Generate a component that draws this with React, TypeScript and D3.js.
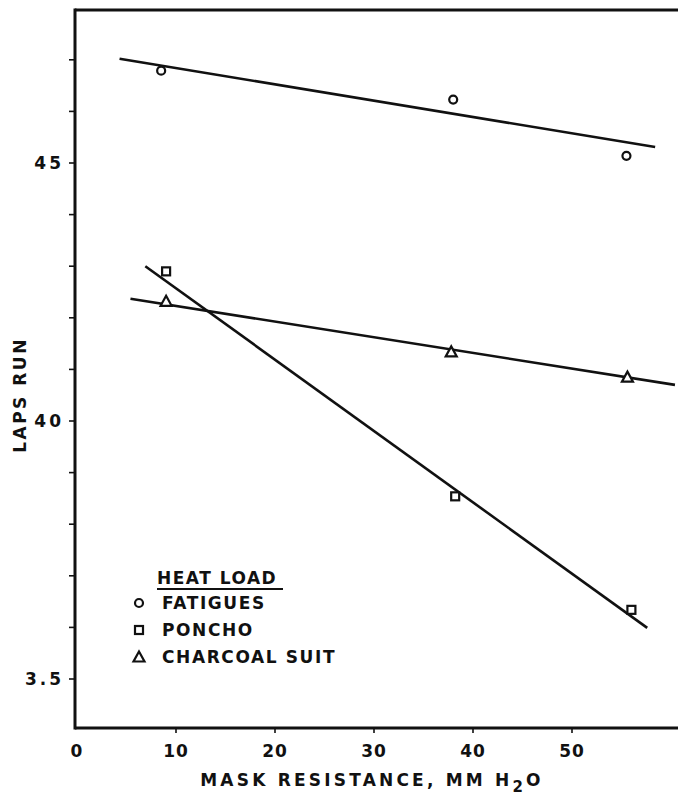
import React from "react";
import * as d3 from "d3";

const W = 678;
const H = 801;

// Data
const xTicks = [0, 10, 20, 30, 40, 50];
const yMinorTicks = [3.5, 3.6, 3.7, 3.8, 3.9, 4.0, 4.1, 4.2, 4.3, 4.4, 4.5, 4.6, 4.7];
const yLabelValues = [3.5, 4.0, 4.5];
const yLabelTexts = ["3.5", "40", "45"];

const fatiguesX = [8.5, 38, 55.5];
const fatiguesY = [4.679, 4.623, 4.514];
const ponchoX = [9, 38.2, 56];
const ponchoY = [4.29, 3.854, 3.634];
const charcoalX = [9, 37.8, 55.6];
const charcoalY = [4.232, 4.134, 4.085];

// fitted lines (endpoints as drawn)
const fatiguesLineX = [4.3, 58.4];
const fatiguesLineY = [4.702, 4.531];
const ponchoLineX = [6.9, 57.6];
const ponchoLineY = [4.3, 3.599];
const charcoalLineX = [5.4, 60.4];
const charcoalLineY = [4.237, 4.07];

const legendTitle = "HEAT LOAD";
const legendItems = ["FATIGUES", "PONCHO", "CHARCOAL SUIT"];
const xTitle = "MASK RESISTANCE, MM H";
const yTitle = "LAPS RUN";

const FONT = "'DejaVu Sans', sans-serif";

export default function App() {
  const x = d3.scaleLinear().domain([0, 60]).range([77, 671]);
  const y = d3.scaleLinear().domain([3.5, 4.5]).range([679, 163]);
  const line = d3
    .line<[number, number]>()
    .x((d) => x(d[0]))
    .y((d) => y(d[1]));

  const left = 75;
  const top = 10;
  const bottom = 728;
  const ink = "#111";

  const circle = (cx: number, cy: number, k: string) => (
    <circle key={k} cx={cx} cy={cy} r={4} fill="white" stroke={ink} strokeWidth={2.2} />
  );
  const square = (cx: number, cy: number, k: string) => (
    <rect key={k} x={cx - 4} y={cy - 4} width={8} height={8} fill="white" stroke={ink} strokeWidth={2.2} />
  );
  const tri = (cx: number, cy: number, k: string) => {
    const p = d3.path();
    p.moveTo(cx, cy - 5.5);
    p.lineTo(cx + 5.5, cy + 4.5);
    p.lineTo(cx - 5.5, cy + 4.5);
    p.closePath();
    return <path key={k} d={p.toString()} fill="white" stroke={ink} strokeWidth={2.2} strokeLinejoin="miter" />;
  };

  const zip = (a: number[], b: number[]) => a.map((v, i) => [v, b[i]] as [number, number]);

  return (
    <div style={{ position: "absolute", left: 0, top: 0 }}>
      <svg width={W} height={H} style={{ display: "block", background: "white" }}>
        {/* frame */}
        <line x1={left} y1={top} x2={W} y2={top} stroke={ink} strokeWidth={3} />
        <line x1={left} y1={top - 1.5} x2={left} y2={bottom + 1.5} stroke={ink} strokeWidth={3} />
        <line x1={left} y1={bottom} x2={W} y2={bottom} stroke={ink} strokeWidth={3} />

        {/* y ticks */}
        {yMinorTicks.map((v) => (
          <line key={"yt" + v} x1={left - 6} x2={left} y1={y(v)} y2={y(v)} stroke={ink} strokeWidth={1.6} />
        ))}
        {yLabelValues.map((v, i) => (
          <text
            key={"yl" + v}
            x={left - 11}
            y={y(v)}
            dy="0.35em"
            textAnchor="end"
            fontFamily={FONT}
            fontSize={17}
            fontWeight="bold"
            letterSpacing={3}
            fill={ink}
          >
            {yLabelTexts[i]}
          </text>
        ))}

        {/* x ticks */}
        {xTicks.map((v) => (
          <g key={"xt" + v}>
            {v > 0 && <line x1={x(v)} x2={x(v)} y1={bottom} y2={bottom + 5} stroke={ink} strokeWidth={1.6} />}
            <text
              x={x(v)}
              y={757}
              textAnchor="middle"
              fontFamily={FONT}
              fontSize={17}
              fontWeight="bold"
              letterSpacing={1}
              fill={ink}
            >
              {v}
            </text>
          </g>
        ))}

        {/* axis titles */}
        <text
          x={372}
          y={786}
          textAnchor="middle"
          fontFamily={FONT}
          fontSize={17}
          fontWeight="bold"
          letterSpacing={3.2}
          fill={ink}
        >
          {xTitle}
          <tspan fontSize={15} dy={6}>2</tspan>
          <tspan dy={-6}>O</tspan>
        </text>
        <text
          transform={`translate(26, 395) rotate(-90)`}
          textAnchor="middle"
          fontFamily={FONT}
          fontSize={17}
          fontWeight="bold"
          letterSpacing={2.5}
          fill={ink}
        >
          {yTitle}
        </text>

        {/* fitted lines */}
        <path d={line(zip(fatiguesLineX, fatiguesLineY)) || ""} stroke={ink} strokeWidth={2.6} fill="none" />
        <path d={line(zip(ponchoLineX, ponchoLineY)) || ""} stroke={ink} strokeWidth={2.6} fill="none" />
        <path d={line(zip(charcoalLineX, charcoalLineY)) || ""} stroke={ink} strokeWidth={2.6} fill="none" />

        {/* points */}
        {fatiguesX.map((v, i) => circle(x(v), y(fatiguesY[i]), "f" + i))}
        {ponchoX.map((v, i) => square(x(v), y(ponchoY[i]), "p" + i))}
        {charcoalX.map((v, i) => tri(x(v), y(charcoalY[i]), "c" + i))}

        {/* legend */}
        <text x={157} y={584} fontFamily={FONT} fontSize={17} fontWeight="bold" letterSpacing={1.5} fill={ink}>
          {legendTitle}
        </text>
        <line x1={157} x2={283} y1={589} y2={589} stroke={ink} strokeWidth={2.2} />
        {legendItems.map((t, i) => {
          const cy = 603 + i * 27;
          const mk = i === 0 ? circle(139, cy, "lm" + i) : i === 1 ? square(139, cy, "lm" + i) : tri(139, cy, "lm" + i);
          return (
            <g key={"lg" + i}>
              {mk}
              <text
                x={162}
                y={cy}
                dy="0.36em"
                fontFamily={FONT}
                fontSize={17}
                fontWeight="bold"
                letterSpacing={1.6}
                fill={ink}
              >
                {t}
              </text>
            </g>
          );
        })}
      </svg>
    </div>
  );
}
